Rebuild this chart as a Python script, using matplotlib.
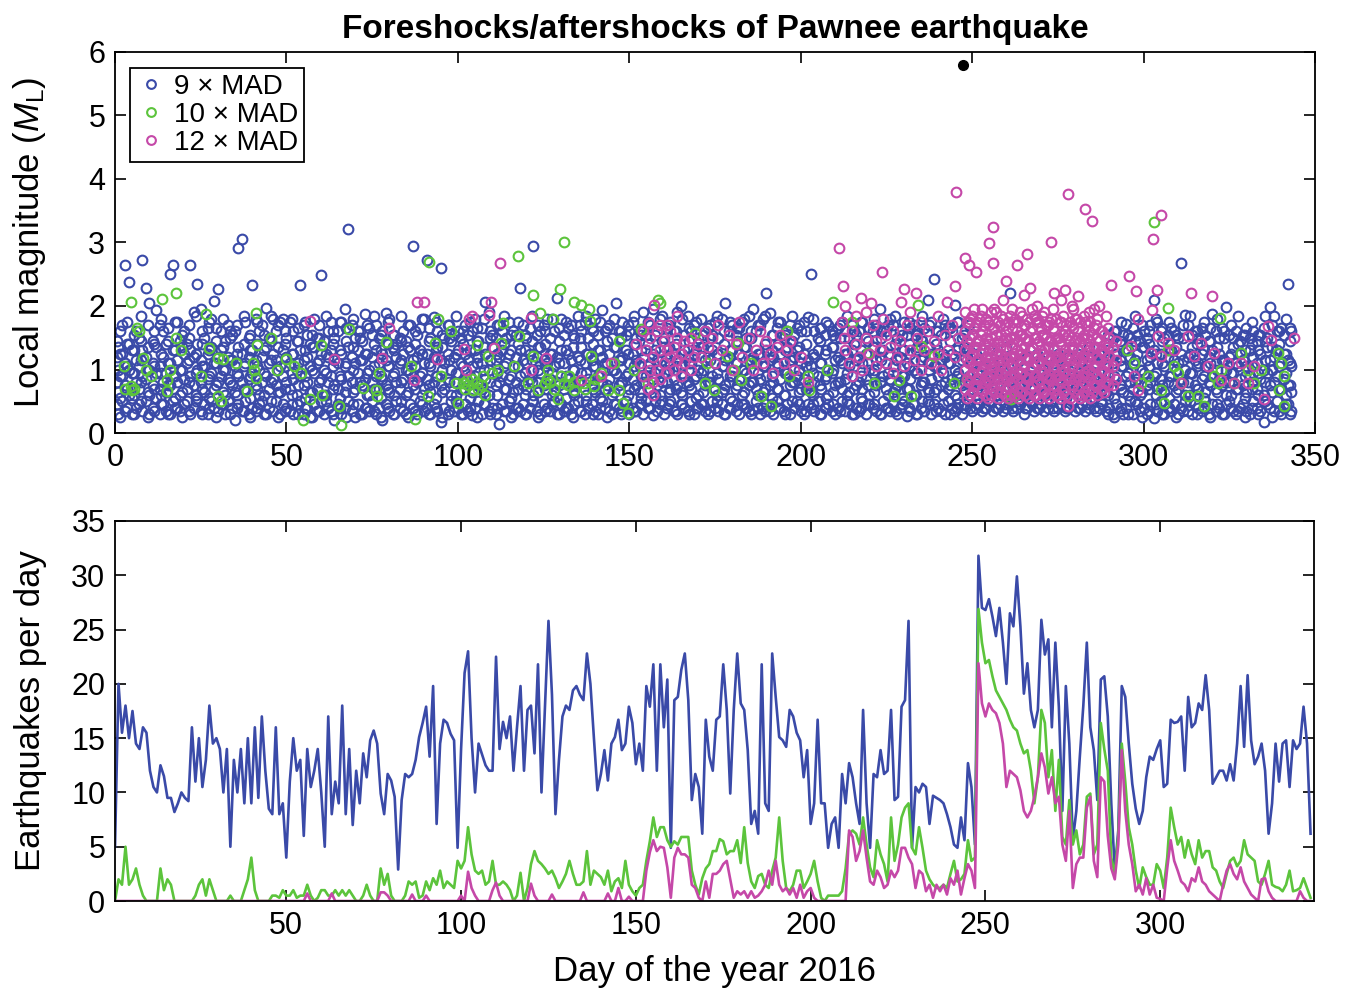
import matplotlib
matplotlib.use("Agg")
import matplotlib.pyplot as plt

plt.rcParams['font.family'] = ['Liberation Sans', 'DejaVu Sans']
plt.rcParams['mathtext.fontset'] = 'custom'
plt.rcParams['mathtext.rm'] = 'Liberation Sans'
plt.rcParams['mathtext.it'] = 'Liberation Sans:italic'

BLUE = '#3a4aa8'
GREEN = '#5cc43c'
MAGENTA = '#c548a8'

# ---- top panel: events (day, magnitudes...) ----
blue_a = [(0.5,.45,.8,1.2,1.45),(1,.3,.65,1.0,1.35),(2,.5,.9,1.25,1.7),(3,.35,.75,1.1,2.64),(4,.6,1.0,1.4,2.38),
(5,.3,.55,.95,1.3),(6,.4,.8,1.15,1.6),(7,.45,.7,1.05,1.5),(8,.35,.9,1.3,2.73),(9,.5,.85,1.2,2.29),(10,.3,.6,1.0,2.05),
(11,.4,.75,1.1,1.45),(12,.55,.95,1.35,1.93),(13,.3,.7,1.05,1.7),(14,.45,.8,1.2,1.6),(15,.35,.65,.95,1.4),(16,.3,.75,1.1,2.5),
(17,.5,.9,1.3,2.64),(18,.4,.8,1.15,1.75),(19,.35,.6,1.0,1.45),(20,.45,.85,1.25,1.6),(21,.5,.7,1.1,1.4),(22,.3,.9,1.3,2.64),
(23,.4,.75,1.2,1.9),(24,.55,1.0,1.4,2.35),(25,.35,.8,1.15,1.95),(26,.45,.65,1.05,1.5),(27,.3,.85,1.25,1.65),(28,.5,.95,1.35,1.8),
(29,.4,.7,1.1,2.08),(30,.35,.8,1.2,2.26),(31,.45,.9,1.3,1.6),(32,.3,.6,1.0,1.45),(33,.5,.85,1.2,1.7),(34,.4,.75,1.15,1.55),
(35,.2,.65,1.05,1.6),(36,.45,.9,1.35,2.92),(37,.35,.8,1.25,3.06),(38,.5,.7,1.1,1.75),(39,.3,.85,1.2,1.5),(40,.4,.95,1.3,2.33),
(41,.35,.75,1.15,1.8),(42,.45,.6,1.0,1.6),(43,.5,.8,1.2,1.7),(44,.3,.9,1.35,1.97),(45,.4,.7,1.1,1.5),(46,.35,.85,1.25,1.8),
(47,.5,.75,1.15,1.6),(48,.3,.65,1.05,1.75),(49,.45,.9,1.3,1.8),(50,.4,.8,1.2,1.5),(51,.35,.7,1.1,1.75),(52,.3,.85,1.25,1.6),
(53,.45,.6,1.0,1.45),(54,.5,.9,1.3,2.33),(55,.3,.75,1.15,1.7),(56,.4,.8,1.2,1.55),(57,.25,.65,1.05,1.4),(58,.45,.95,1.35,1.8),
(59,.35,.7,1.1,1.5),(60,.5,.85,1.25,2.49),(61,.3,.6,1.0,1.45),(62,.4,.8,1.2,1.6),(63,.35,.9,1.3,1.75),(64,.2,.75,1.15,1.5),
(65,.45,.7,1.1,1.6),(66,.3,.85,1.25,1.75),(67,.4,.65,1.05,1.95),(68,.5,.9,1.35,3.21),(69,.35,.8,1.2,1.7),(70,.25,.7,1.1,1.5),
(71,.45,.95,1.3,1.6),(72,.3,.75,1.15,1.45),(73,.4,.85,1.25,1.88),(74,.35,.6,1.0,1.65),(75,.5,.8,1.2,1.55),(76,.3,.9,1.3,1.7),
(77,.4,.7,1.1,1.5),(78,.2,.85,1.25,1.6),(79,.45,.75,1.15,1.89),(80,.35,.65,1.05,1.8),(81,.3,.9,1.35,1.55),(82,.5,.8,1.2,1.4),
(83,.4,.7,1.1,1.5),(84,.35,.85,1.25,1.6),(85,.3,.6,1.0,1.45),(86,.45,.95,1.3,1.7),(87,.4,.75,1.15,2.94),(88,.3,.8,1.2,1.55),
(89,.5,.9,1.3,1.65),(90,.35,.7,1.1,1.8),(91,.4,.85,1.25,2.73),(92,.3,.65,1.05,1.5),(93,.45,.8,1.2,1.83),(94,.35,.9,1.35,1.6),
(95,.17,.75,1.15,2.6),(96,.4,.7,1.1,1.5),(97,.3,.85,1.25,1.7),(98,.5,.6,1.0,1.45),(99,.35,.8,1.2,1.55),(100,.4,.95,1.3,1.6)]

blue_b = [(101,.3,.7,1.1,1.5),(102,.45,.85,1.25,1.7),(103,.35,.75,1.15,1.55),(104,.29,.65,1.05,1.6),(105,.4,.9,1.3,1.8),
(106,.5,.8,1.2,1.45),(107,.3,.7,1.1,1.65),(108,.45,.85,1.25,2.06),(109,.35,.6,1.0,1.9),(110,.4,.95,1.35,1.55),(111,.3,.75,1.15,1.5),
(112,.14,.8,1.2,1.7),(113,.45,.9,1.3,1.6),(114,.35,.7,1.1,1.5),(115,.5,.85,1.25,1.75),(116,.3,.65,1.05,1.6),(117,.4,.8,1.2,1.55),
(118,.35,.9,1.3,2.28),(119,.45,.75,1.15,1.7),(120,.3,.7,1.1,1.5),(121,.4,.85,1.25,1.65),(122,.5,.6,1.0,2.94),(123,.35,.8,1.2,1.55),
(124,.3,.95,1.35,1.6),(125,.45,.75,1.15,1.7),(126,.4,.7,1.1,1.8),(127,.35,.85,1.25,1.5),(128,.5,.65,1.05,1.6),(129,.3,.8,1.2,2.12),
(130,.45,.9,1.3,1.8),(131,.35,.7,1.1,1.55),(132,.4,.85,1.25,1.65),(133,.3,.75,1.15,1.7),(134,.45,.6,1.0,1.5),(135,.5,.8,1.2,1.85),
(136,.35,.95,1.35,1.6),(137,.3,.7,1.1,1.75),(138,.4,.85,1.25,1.5),(139,.45,.75,1.15,1.65),(140,.35,.65,1.05,1.8),(141,.3,.9,1.3,1.55),
(142,.5,.8,1.2,1.94),(143,.4,.7,1.1,1.6),(144,.35,.85,1.25,1.7),(145,.3,.6,1.0,1.5),(146,.45,.95,1.35,2.05),(147,.4,.75,1.15,1.6),
(148,.35,.8,1.2,1.75),(149,.5,.9,1.3,1.55),(150,.3,.7,1.1,1.6),(151,.4,.85,1.25,1.75),(152,.35,.75,1.15,1.5),(153,.45,.65,1.05,1.6),
(154,.3,.8,1.2,1.9),(155,.5,.9,1.3,1.55),(156,.4,.7,1.1,1.7),(157,.28,.85,1.25,1.95),(158,.35,.75,1.15,1.6),(159,.45,.6,1.0,1.8),
(160,.3,.95,1.35,1.5),(161,.4,.8,1.2,1.65),(162,.5,.7,1.1,1.75),(163,.35,.85,1.25,1.6),(164,.3,.75,1.15,1.9),(165,.45,.65,1.05,2.0),
(166,.4,.9,1.3,1.55),(167,.35,.8,1.2,1.85),(168,.5,.7,1.1,1.6),(169,.3,.85,1.25,1.7),(170,.4,.6,1.0,1.5),(171,.45,.95,1.35,1.8),
(172,.35,.75,1.15,1.6),(173,.3,.8,1.2,1.65),(174,.5,.9,1.3,1.55),(175,.4,.7,1.1,1.75),(176,.35,.85,1.25,1.5),(177,.45,.65,1.05,1.8),
(178,.3,.75,1.15,2.05),(179,.4,.8,1.2,1.6),(180,.5,.9,1.3,1.7),(181,.35,.7,1.1,1.55),(182,.3,.85,1.25,1.65),(183,.45,.6,1.0,1.75),
(184,.4,.95,1.35,1.5),(185,.35,.75,1.15,1.85),(186,.36,.8,1.2,1.96),(187,.5,.7,1.1,1.6),(188,.3,.85,1.25,1.7),(189,.4,.65,1.05,1.8),
(190,.45,.9,1.3,2.2),(191,.35,.75,1.15,1.89),(192,.3,.8,1.2,1.55),(193,.5,.7,1.1,1.65),(194,.4,.85,1.25,1.75),(195,.35,.6,1.0,1.5),
(196,.45,.95,1.35,1.6),(197,.3,.75,1.15,1.7),(198,.4,.8,1.2,1.55),(199,.5,.9,1.3,1.65),(200,.35,.7,1.1,1.6)]

blue_c = [(201,.3,.85,1.25,1.75),(202,.45,.75,1.15,1.82),(203,.4,.65,1.05,2.51),(204,.35,.8,1.2,1.6),(205,.5,.9,1.3,1.5),
(206,.3,.7,1.1,1.65),(207,.4,.85,1.25,1.55),(208,.45,.6,1.0,1.7),(209,.35,.95,1.35,1.6),(210,.3,.75,1.15,1.5),(211,.4,.8,1.2,1.65),
(212,.5,.7,1.1,1.75),(213,.35,.85,1.25,1.6),(214,.45,.65,1.05,1.5),(215,.3,.9,1.3,1.7),(216,.4,.75,1.15,1.55),(217,.35,.8,1.2,1.6),
(218,.5,.7,1.1,1.75),(219,.3,.85,1.25,1.5),(220,.45,.6,1.0,1.65),(221,.4,.95,1.35,1.6),(222,.35,.75,1.15,1.7),(223,.3,.8,1.2,1.95),
(224,.5,.9,1.3,1.65),(225,.4,.7,1.1,1.6),(226,.35,.85,1.25,1.8),(227,.45,.65,1.05,1.7),(228,.3,.75,1.15,1.5),(229,.4,.8,1.2,1.6),
(230,.5,.9,1.3,1.75),(231,.26,.7,1.1,1.55),(232,.35,.85,1.25,1.65),(233,.45,.6,1.0,1.7),(234,.3,.95,1.35,1.6),(235,.4,.75,1.15,1.5),
(236,.35,.8,1.2,1.65),(237,.5,.7,1.1,2.09),(238,.3,.85,1.25,1.75),(239,.45,.65,1.05,2.42),(240,.4,.9,1.3,1.6),(241,.35,.75,1.15,1.55),
(242,.3,.8,1.2,1.7),(243,.5,.7,1.1,1.65),(244,.4,.85,1.25,1.6),(245,.35,.6,1.0,2.02),(246,.45,.95,1.35,1.75),(247,.3,.75,1.15,1.5),
(248,.4,.8,1.2,1.6),(249,.5,.9,1.3,1.7),(250,.35,.7,1.1,1.55),(251,.4,.85,1.25),(252,.45,.75,1.15),(253,.35,.65,1.05),
(254,.4,.8,1.2),(255,.5,.9,1.3),(256,.35,.7,1.1),(257,.4,.85,1.25),(258,.45,.75,1.15),(259,.35,.6,1.0),(260,.4,.95,1.35),
(261,.5,.8,2.2),(262,.35,.7,1.2),(263,.4,.85,1.1),(264,.45,.75,1.15),(265,.3,.65,1.05),(266,.4,.8,1.2),(267,.5,.9,1.3),
(268,.35,.7,1.1),(269,.4,.85,1.25),(270,.45,.75,1.15),(271,.35,.6,1.0),(272,.4,.95,1.35),(273,.5,.8,1.2),(274,.35,.7,1.1),
(275,.4,.85,1.25),(276,.45,.75,1.15),(277,.35,.65,1.05),(278,.4,.8,1.2),(279,.5,.9,1.3),(280,.35,.7,1.1),(281,.4,.85,1.25),
(282,.45,.75,1.15),(283,.35,.6,1.0),(284,.4,.95,1.35),(285,.5,.8,1.2),(286,.35,.7,1.1),(287,.4,.85,1.25),(288,.45,.75,1.15),
(289,.35,.65,1.05),(290,.4,.8,1.2,1.55),(291,.3,.7,1.1,1.5),(292,.45,.85,1.25,1.6),(293,.35,.75,1.15,1.45),(294,.3,.65,1.05,1.55),
(295,.4,.9,1.3,1.71),(296,.5,.8,1.2,1.5),(297,.3,.7,1.1,1.65),(298,.45,.85,1.25,1.55),(299,.35,.6,1.0,1.45),(300,.4,.95,1.35,1.6),
(301,.3,.75,1.15,1.5),(302,.45,.8,1.2,1.7),(303,.24,.9,1.3,2.1),(304,.35,.7,1.1,1.75),(305,.5,.85,1.25,1.6),(306,.3,.65,1.05,1.5),
(307,.4,.8,1.2,1.55),(308,.35,.9,1.3,1.65),(309,.45,.75,1.15,1.6),(310,.3,.7,1.1,1.5),(311,.4,.85,1.25,2.67),(312,.5,.6,1.0,1.86),
(313,.35,.8,1.2,1.7),(314,.3,.95,1.35,1.55),(315,.45,.75,1.15,1.6),(316,.4,.7,1.1,1.5),(317,.35,.85,1.25,1.65),(318,.5,.65,1.05,1.55),
(319,.3,.8,1.2,1.45),(320,.45,.9,1.3,1.87),(321,.35,.7,1.1,1.6),(322,.4,.85,1.25,1.5),(323,.3,.75,1.15,1.65),(324,.45,.6,1.0,1.98),
(325,.5,.8,1.2,1.55),(326,.35,.95,1.35,1.5),(327,.3,.7,1.1,1.6),(328,.4,.85,1.25,1.45),(329,.45,.75,1.15,1.55),(330,.35,.65,1.05,1.65),
(331,.3,.9,1.3,1.5),(332,.5,.8,1.2,1.6),(333,.4,.7,1.1,1.45),(334,.35,.85,1.25,1.55),(335,.17,.6,1.0,1.65),(336,.45,.95,1.35,1.5),
(337,.4,.75,1.15,1.98),(338,.35,.8,1.2,1.85),(339,.5,.9,1.3,1.6),(340,.3,.7,1.1,1.65),(341,.4,.85,1.25,1.55),(342,.45,.75,1.15,2.35),
(343,.35,.65,1.05,1.6)]

# extra events filling the dense part of the 9 x MAD band
blue_fill = [(1.5,.25,.55,.9,1.25,1.6),(3.5,.4,.7,1.05,1.4,1.75),(5.5,.3,.6,.95,1.3,1.55),(7.5,.5,.8,1.15,1.45,1.85),
(9.5,.25,.65,1.0,1.35,1.7),(11.5,.35,.7,1.05,1.4,1.6),(13.5,.45,.6,.95,1.25,1.8),(15.5,.3,.75,1.1,1.45,1.65),
(17.5,.4,.55,.9,1.3,1.75),(19.5,.25,.65,1.0,1.35,1.55),(21.5,.35,.8,1.15,1.5,1.7),(23.5,.5,.6,.95,1.25,1.85),
(25.5,.3,.7,1.05,1.4,1.6),(27.5,.4,.55,.9,1.3,1.75),(29.5,.25,.75,1.1,1.45,1.65),(31.5,.45,.65,1.0,1.35,1.8),
(33.5,.3,.8,1.15,1.5,1.6),(35.5,.4,.6,.95,1.25,1.7),(37.5,.35,.7,1.05,1.4,1.85),(39.5,.25,.55,.9,1.3,1.55),
(41.5,.4,.7,1.05,1.4,1.75),(43.5,.3,.6,.95,1.3,1.55),(45.5,.5,.8,1.15,1.45,1.85),(47.5,.25,.65,1.0,1.35,1.7),
(49.5,.35,.7,1.05,1.4,1.6),(51.5,.45,.6,.95,1.25,1.8),(53.5,.3,.75,1.1,1.45,1.65),(55.5,.4,.55,.9,1.3,1.75),
(57.5,.25,.65,1.0,1.35,1.55),(59.5,.35,.8,1.15,1.5,1.7),(61.5,.5,.6,.95,1.25,1.85),(63.5,.3,.7,1.05,1.4,1.6),
(65.5,.4,.55,.9,1.3,1.75),(67.5,.25,.75,1.1,1.45,1.65),(69.5,.45,.65,1.0,1.35,1.8),(71.5,.3,.8,1.15,1.5,1.6),
(73.5,.4,.6,.95,1.25,1.7),(75.5,.35,.7,1.05,1.4,1.85),(77.5,.25,.55,.9,1.3,1.55),(79.5,.4,.7,1.05,1.4,1.75),
(81.5,.3,.6,.95,1.3,1.55),(83.5,.5,.8,1.15,1.45,1.85),(85.5,.25,.65,1.0,1.35,1.7),(87.5,.35,.7,1.05,1.4,1.6),
(89.5,.45,.6,.95,1.25,1.8),(91.5,.3,.75,1.1,1.45,1.65),(93.5,.4,.55,.9,1.3,1.75),(95.5,.25,.65,1.0,1.35,1.55),
(97.5,.35,.8,1.15,1.5,1.7),(99.5,.5,.6,.95,1.25,1.85),(101.5,.3,.7,1.05,1.4,1.6),(103.5,.4,.55,.9,1.3,1.75),
(105.5,.25,.75,1.1,1.45,1.65),(107.5,.45,.65,1.0,1.35,1.8),(109.5,.3,.8,1.15,1.5,1.6),(111.5,.4,.6,.95,1.25,1.7),
(113.5,.35,.7,1.05,1.4,1.85),(115.5,.25,.55,.9,1.3,1.55),(117.5,.4,.7,1.05,1.4,1.75),(119.5,.3,.6,.95,1.3,1.55),
(121.5,.5,.8,1.15,1.45,1.85),(123.5,.25,.65,1.0,1.35,1.7),(125.5,.35,.7,1.05,1.4,1.6),(127.5,.45,.6,.95,1.25,1.8),
(129.5,.3,.75,1.1,1.45,1.65),(131.5,.4,.55,.9,1.3,1.75),(133.5,.25,.65,1.0,1.35,1.55),(135.5,.35,.8,1.15,1.5,1.7),
(137.5,.5,.6,.95,1.25,1.85),(139.5,.3,.7,1.05,1.4,1.6),(141.5,.4,.55,.9,1.3,1.75),(143.5,.25,.75,1.1,1.45,1.65),
(145.5,.45,.65,1.0,1.35,1.8),(147.5,.3,.8,1.15,1.5,1.6),(149.5,.4,.6,.95,1.25,1.7),(151.5,.35,.7,1.05,1.4,1.85),
(153.5,.45,.55,.9,1.3,1.55),(155.5,.4,.7,1.05,1.4,1.75),(157.5,.5,.6,.95,1.3,1.55),(159.5,.5,.8,1.15,1.45,1.85),
(161.5,.45,.65,1.0,1.35,1.7),(163.5,.35,.7,1.05,1.4,1.6),(165.5,.45,.6,.95,1.25,1.8),(167.5,.3,.75,1.1,1.45,1.65),
(169.5,.4,.55,.9,1.3,1.75),(171.5,.45,.65,1.0,1.35,1.55),(173.5,.35,.8,1.15,1.5,1.7),(175.5,.5,.6,.95,1.25,1.85),
(177.5,.3,.7,1.05,1.4,1.6),(179.5,.4,.55,.9,1.3,1.75),(181.5,.45,.75,1.1,1.45,1.65),(183.5,.45,.65,1.0,1.35,1.8),
(185.5,.3,.8,1.15,1.5,1.6),(187.5,.4,.6,.95,1.25,1.7),(189.5,.35,.7,1.05,1.4,1.85),(191.5,.45,.55,.9,1.3,1.55),
(193.5,.4,.7,1.05,1.4,1.75),(195.5,.3,.6,.95,1.3,1.55),(197.5,.5,.8,1.15,1.45,1.85),(199.5,.45,.65,1.0,1.35,1.7),
(201.5,.35,.7,1.05,1.4,1.6),(203.5,.45,.6,.95,1.25,1.8),(205.5,.3,.75,1.1,1.45,1.65),(207.5,.4,.55,.9,1.3,1.75),
(209.5,.45,.65,1.0,1.35,1.55),(211.5,.35,.8,1.15,1.5,1.7),(213.5,.5,.6,.95,1.25,1.85),(215.5,.3,.7,1.05,1.4,1.6),
(217.5,.4,.55,.9,1.3,1.75),(219.5,.45,.75,1.1,1.45,1.65),(221.5,.45,.65,1.0,1.35,1.8),(223.5,.3,.8,1.15,1.5,1.6),
(225.5,.4,.6,.95,1.25,1.7),(227.5,.35,.7,1.05,1.4,1.85),(229.5,.45,.55,.9,1.3,1.55),(231.5,.4,.7,1.05,1.4,1.75),
(233.5,.3,.6,.95,1.3,1.55),(235.5,.5,.8,1.15,1.45,1.85),(237.5,.45,.65,1.0,1.35,1.7),(239.5,.35,.7,1.05,1.4,1.6),
(241.5,.45,.6,.95,1.25,1.8),(243.5,.3,.75,1.1,1.45,1.65),(245.5,.4,.55,.9,1.3,1.75),(247.5,.45,.65,1.0,1.35,1.55),
(249.5,.4,.6,.9),(251.5,.45,.7,.95),(253.5,.4,.55,.85),(255.5,.5,.65,.9),(257.5,.4,.6,.95),(259.5,.45,.7,.85),
(261.5,.4,.55,.9),(263.5,.5,.65,.95),(265.5,.4,.6,.85),(267.5,.45,.7,.9),(269.5,.4,.55,.95),(271.5,.5,.65,.85),
(273.5,.4,.6,.9),(275.5,.45,.7,.95),(277.5,.4,.55,.85),(279.5,.5,.65,.9),(281.5,.4,.6,.95),(283.5,.45,.7,.85),
(285.5,.4,.55,.9),(287.5,.5,.65,.95),(289.5,.3,.6,.95,1.3,1.55),(291.5,.25,.55,.9,1.25,1.6),(293.5,.4,.7,1.05,1.4,1.75),
(295.5,.3,.6,.95,1.3,1.55),(297.5,.5,.8,1.15,1.45,1.85),(299.5,.25,.65,1.0,1.35,1.7),(301.5,.35,.7,1.05,1.4,1.6),
(303.5,.45,.6,.95,1.25,1.8),(305.5,.3,.75,1.1,1.45,1.65),(307.5,.4,.55,.9,1.3,1.75),(309.5,.25,.65,1.0,1.35,1.55),
(311.5,.35,.8,1.15,1.5,1.7),(313.5,.5,.6,.95,1.25,1.85),(315.5,.3,.7,1.05,1.4,1.6),(317.5,.4,.55,.9,1.3,1.75),
(319.5,.25,.75,1.1,1.45,1.65),(321.5,.45,.65,1.0,1.35,1.8),(323.5,.3,.8,1.15,1.5,1.6),(325.5,.4,.6,.95,1.25,1.7),
(327.5,.35,.7,1.05,1.4,1.85),(329.5,.25,.55,.9,1.3,1.55),(331.5,.4,.7,1.05,1.4,1.75),(333.5,.3,.6,.95,1.3,1.55),
(335.5,.5,.8,1.15,1.45,1.85),(337.5,.25,.65,1.0,1.35,1.7),(339.5,.35,.7,1.05,1.4,1.6),(341.5,.45,.6,.95,1.25,1.8),
(342.8,.3,.75,1.1,1.45,1.65)]

green_pts = [(2.6,1.05),(3,.7),(4.6,.74),(5,.68),(5.5,.7),(4.8,2.06),(6.5,1.66),(7,1.6),(8.3,1.18),(9,1.0),(10.4,.89),
(13.6,2.11),(15.1,.84),(15.3,.66),(16,1.0),(17.7,1.5),(17.7,2.2),(19.2,1.31),(25,.89),(26.5,1.87),(27.4,1.34),(29.9,1.18),
(29.9,.58),(31.4,1.16),(31,.5),(35.2,1.1),(38.6,.66),(40.3,1.1),(41,1.89),(41.1,.87),(41.4,1.39),(40.5,1.0),(45.4,1.5),
(47.2,1.0),(49.8,1.16),(52.2,1.05),(54.2,.95),(54.7,.2),(56.9,.53),(60.2,1.39),(60.4,.6),(65.4,.42),(65.9,.12),(68.3,1.63),
(72.2,.71),(76.1,.68),(77,.95),(79,1.44),(76.5,.58),(86.3,1.05),(87.5,.22),(91.2,.58),(91.6,2.7),(93.2,1.42),(94.3,1.8),
(95,.9),(98,1.6),(99.4,.79),(99.9,.47),(101.4,.79),(102,.7),(102.8,.84),(103,.75),(104,.85),(104.3,.68),(105.7,.79),
(105.7,1.39),(106,.7),(107,.75),(107.2,.9),(108,.6),(108.7,1.21),(110,.95),(111.6,1.0),(112.6,1.42),(113.1,1.74),(116.5,1.05),
(117.5,2.78),(117.9,1.52),(120.4,.79),(121.9,2.17),(121.9,1.21),(123.3,.68),(124.1,1.89),(125.3,.79),(126,.85),(126.2,1.0),
(127,.8),(127.7,1.8),(128,.7),(129.1,.53),(129.9,2.26),(130,.9),(131,3.0),(131,.79),(132,.75),(132.5,.9),(133.9,2.06),
(133.9,.68),(134,.8),(135.9,2.02),(136.8,.79),(137,.7),(138.3,1.95),(138.6,1.76),(138.8,1.21),(139.8,.74),(140,.85),
(141.8,.95),(143.7,.68),(145.6,1.1),(147.1,.68),(147.1,1.45),(148.1,.47),(149.5,.32),(151.5,1.0),(153.4,1.63),(155.4,.79),
(158.3,2.1),(159,2.05),(169.1,1.58),(172.1,.79),(172.8,1.1),(174.7,.68),(178.6,1.21),(180.6,1.0),(181.6,1.42),(182.5,.84),
(185.4,1.1),(188.4,.58),(191.3,.42),(196,1.6),(196.6,.9),(202,.9),(202.5,.68),(207.8,1.0),(209.3,2.07),(215.1,1.75),
(219.5,1.26),(221.4,.79),(227.3,.58),(228.7,.84),(232.1,.58),(234.3,2.02),(235,1.37),(238.9,1.21),(244.8,.79),(248.6,.84),
(261.3,.53),(262.3,.58),(295.3,1.31),(297.3,1.1),(299.2,.79),(301.2,.9),(303.1,3.32),(305.1,.68),(306.1,.47),(307,1.97),
(307,1.31),(309,1.05),(310,.95),(310.9,.79),(312.9,.58),(315.8,.58),(317.7,.42),(320.6,.9),(321.6,.79),(322.4,1.81),
(322.6,1.0),(326.5,.79),(328.4,1.26),(330.4,1.0),(332.3,.79),(334.2,1.0),(339.1,1.26),(340.1,1.1),(341.1,.9),(341.1,.42),
(339.6,.68)]

magenta_pts = [(56.9,1.76),(63.9,1.17),(77.8,1.18),(80,1.66),(87.3,.84),(88.2,2.06),(90.1,2.06),(94,1.16),(101.8,1.32),
(102.3,1.0),(103.3,1.8),(104.2,1.84),(109.6,2.07),(109.1,1.86),(110.6,1.34),(112.3,2.68),(121.3,1.81),(121.3,1.0),(125.6,1.18),
(135.8,.84),(141.7,.9),(144.6,1.1),(152,1.4),(153,1.1),(154,.9),(154,1.6),(155,1.3),(155.5,.7),(155.8,1.74),(156,1.5),(156,1.0),
(157,.8),(157,1.2),(157,.6),(157.2,2.02),(158,1.6),(158,1.0),(159,1.3),(159,.85),(159,1.7),(160,1.1),(160,1.45),(160.9,1.7),
(161,.95),(161,1.3),(162,1.2),(162,1.6),(163,1.0),(163,1.35),(164,1.15),(164,1.5),(164,1.84),(165,.9),(165,1.25),(166,1.1),
(166,1.45),(167,1.3),(168,1.0),(168,1.5),(169,1.2),(170,1.4),(171,1.2),(172,1.6),(173,1.35),(174,1.5),(175,1.1),(176,1.7),
(177,1.3),(179,1.55),(180,1.0),(181,1.4),(182,1.75),(183,1.2),(185,1.5),(186,1.0),(187,1.3),(188,1.6),(189,1.1),(190,1.45),
(191,1.25),(192,.95),(193,1.35),(194,1.55),(195,1.1),(196,1.3),(197,1.45),(198,1.0),(200,1.2),(202,.8),(211.3,2.92),
(212.2,2.31),(213,2.0),(212,1.75),(212.5,1.5),(213,1.3),(214,1.1),(215,1.6),(215,.9),(216,1.4),(216,1.85),(217,1.2),
(217.5,2.13),(218,1.0),(219,1.5),(219,1.9),(220,1.25),(220.5,2.05),(221,1.7),(222,1.05),(222,1.45),(223,1.3),(223.6,2.54),
(224,1.8),(225,1.1),(225,1.55),(226,1.35),(227,1.6),(227,.95),(228,1.2),(229,1.45),(229.2,2.07),(230,1.05),(230.2,2.26),
(231,1.7),(232,1.3),(232,1.9),(233,1.15),(233.6,2.21),(234,1.5),(235,1.0),(235,1.75),(236,1.3),(237,1.6),(238,1.1),(239,1.45),
(240,1.25),(240,1.85),(241,1.0),(242,1.55),(242.8,2.06),(243,1.3),(244,1.7),(245,2.31),(245.2,3.8),(245,1.2),(246,1.5),
(290.4,2.33),(295.8,2.47),(296.3,1.37),(297.3,.9),(297.7,2.24),(298.3,.68),(298.3,1.79),(302.2,1.26),(302.6,1.94),(302.8,3.06),
(303.9,2.25),(304.1,1.52),(305.1,1.21),(305.1,3.44),(307,1.42),(309,1.31),(310.9,.79),(312.9,1.52),(313.8,2.21),(314.8,1.21),
(316.7,1.42),(318.7,1.05),(319.9,2.15),(320.6,1.26),(322.6,.84),(324.5,1.1),(326.5,.79),(328.4,1.1),(330.4,.79),(332.3,1.05),
(335.2,.53),(336.2,1.68),(337.2,1.47),(344,1.5)]

magenta_swarm = [(248,.7,1.0,1.3,1.6,1.9,2.76),(249,.8,1.1,1.4,1.75,2.64),(250,.65,.95,1.25,1.55,1.85),(251,.75,1.05,1.35,1.7,2.54),
(252,.85,1.15,1.45,1.8),(253,.7,1.0,1.3,1.6,1.95),(254,.6,.9,1.2,1.5,1.8),(255,.8,1.1,1.4,1.7,2.99),(256,.7,1.0,1.3,1.65,2.68,3.24),
(257,.65,.95,1.25,1.55,1.9),(258,.75,1.05,1.35,1.7),(259,.85,1.15,1.45,1.8,2.1),(260,.7,1.0,1.3,1.6,2.4),(261,.6,.9,1.2,1.5,1.85),
(262,.8,1.1,1.4,1.75),(263,.7,1.0,1.3,1.6,2.65),(264,.65,.95,1.25,1.55,1.9),(265,.75,1.05,1.35,1.7,2.18),(266,.85,1.15,1.45,1.8,2.82),
(267,.7,1.0,1.3,1.6,2.28),(268,.6,.9,1.2,1.5,1.85),(269,.8,1.1,1.4,1.75,2.0),(270,.7,1.0,1.3,1.65),(271,.65,.95,1.25,1.55,1.9),
(272,.75,1.05,1.35,1.7),(273,.85,1.15,1.45,1.8,3.0),(274,.7,1.0,1.3,1.6,2.2),(275,.6,.9,1.2,1.5),(276,.8,1.1,1.4,1.75,2.1),
(277,.7,1.0,1.3,1.6,2.25),(278,.43,.95,1.25,1.55,3.77),(279,.75,1.05,1.35,1.7,2.0),(280,.85,1.15,1.45,1.8),(281,.7,1.0,1.3,1.6,2.15),
(282,.6,.9,1.2,1.5),(283,.8,1.1,1.4,1.75,3.52),(284,.7,1.0,1.3,1.6,1.9),(285,.65,.95,1.25,1.55,3.34),(286,.75,1.05,1.35,1.7),
(287,.85,1.15,1.45,2.0),(288,.7,1.0,1.3,1.6),(289,.8,1.1,1.4,1.85),(290,.9,1.2,1.5),(291,.75,1.05,1.35),(292,.85,1.15,1.45),
(248.5,.55,.85,1.15,1.45,1.75),(249.5,.6,.9,1.2,1.5,1.8),(250.5,.75,1.05,1.35,1.65,1.95),(251.5,.55,.85,1.15,1.45,1.75),
(252.5,.65,.95,1.25,1.55,1.85),(253.5,.8,1.1,1.4,1.7),(254.5,.55,.85,1.15,1.45,1.75),(255.5,.6,.9,1.2,1.5,1.9),
(256.5,.75,1.05,1.35,1.65,1.95),(257.5,.55,.85,1.15,1.45,1.75),(258.5,.65,.95,1.25,1.55,1.85),(259.5,.6,.9,1.2,1.5,1.7),
(260.5,.55,.85,1.15,1.45,1.75),(261.5,.75,1.05,1.35,1.65,1.95),(262.5,.6,.9,1.2,1.5,1.8),(263.5,.55,.85,1.15,1.45,1.75),
(264.5,.65,.95,1.25,1.55,1.85),(265.5,.6,.9,1.2,1.5,1.7),(266.5,.55,.85,1.15,1.45,1.75),(267.5,.75,1.05,1.35,1.65,1.95),
(268.5,.6,.9,1.2,1.5,1.8),(269.5,.55,.85,1.15,1.45,1.75),(270.5,.65,.95,1.25,1.55,1.85),(271.5,.6,.9,1.2,1.5,1.7),
(272.5,.55,.85,1.15,1.45,1.75),(273.5,.75,1.05,1.35,1.65,1.95),(274.5,.6,.9,1.2,1.5,1.8),(275.5,.55,.85,1.15,1.45,1.75),
(276.5,.65,.95,1.25,1.55,1.85),(277.5,.6,.9,1.2,1.5,1.7),(278.5,.55,.85,1.15,1.45,1.75),(279.5,.75,1.05,1.35,1.65,1.95),
(280.5,.6,.9,1.2,1.5,1.8),(281.5,.55,.85,1.15,1.45,1.75),(282.5,.65,.95,1.25,1.55,1.85),(283.5,.6,.9,1.2,1.5,1.7),
(284.5,.55,.85,1.15,1.45,1.75),(285.5,.75,1.05,1.35,1.65,1.95),(286.5,.6,.9,1.2,1.5,1.8),(287.5,.7,1.0,1.3,1.6),
(288.5,.65,.95,1.25,1.55),(289.5,.75,1.05,1.35,1.65)]

mainshock_day = [247.2]
mainshock_ml = [5.79]

# ---- bottom panel: earthquakes per day, days 1..343 ----
rate_9mad = [5, 20, 15.5, 18, 15, 17.5, 14.5, 14, 16, 15.5,
 12, 10.5, 10, 12.5, 11.5, 9.5, 9.5, 8.2, 9, 10,
 9.5, 9.2, 16, 11, 15, 10.5, 13, 18, 14.5, 15,
 14, 10, 14, 5, 13, 10, 14, 9, 15, 9,
 16, 9.5, 17, 12, 8.5, 8, 16, 8, 9, 4,
 11, 15, 12, 13, 6, 14, 10.5, 12, 14, 10,
 5, 17, 8, 11, 9, 18, 8, 14, 7, 12,
 9, 13.6, 11.4, 14.8, 15.7, 14.5, 9.9, 8, 11.7, 11.1,
 9.6, 2.9, 9.3, 11.7, 11.4, 11.7, 13, 15.1, 16.4, 17.9,
 13.3, 19.8, 7.1, 14.5, 16.7, 16.4, 15.4, 14.8, 4.9, 14,
 21, 23, 15, 10, 14.5, 13.5, 12.5, 12, 12, 22.5,
 14, 16.5, 15, 17, 12, 16, 19.8, 12, 17.6, 18,
 13.6, 21.8, 10, 18, 25.8, 19, 8, 13, 17, 18,
 17.6, 19.4, 19.8, 19, 18.5, 22.8, 20, 15, 10.2, 11.7,
 13.9, 11.1, 14.5, 15.1, 16.7, 13.9, 14.5, 17.9, 16.4, 12.6,
 14.5, 12, 19.8, 17.9, 21.8, 12, 21.8, 16, 20.4, 4.9,
 18.5, 18.8, 21.3, 22.8, 18.5, 9.3, 11.7, 10.5, 6.2, 16.7,
 13.3, 12, 16.7, 17, 21.8, 17.6, 9.9, 17.6, 22.8, 18.2,
 17.6, 13.9, 7.1, 8.3, 6.2, 21.8, 9, 8.3, 22.8, 18.8,
 15.1, 14.8, 14.2, 17.6, 17, 15.5, 14.8, 11.4, 13.9, 7.1,
 9, 16.7, 9, 9, 4.9, 7.1, 7.7, 4.9, 11.7, 9,
 12.7, 11.4, 9, 7.1, 17.6, 9, 4.9, 11.7, 11.4, 13.9,
 11.7, 12, 17.6, 9.3, 9.6, 17.9, 18.5, 25.8, 4.9, 10.5,
 10, 10.8, 10.5, 7.1, 9.7, 9.5, 9.3, 9, 8, 6.8,
 5.2, 4.9, 7.7, 5.6, 12.7, 10.5, 5.2, 31.8, 27, 26.8,
 27.8, 26.2, 24.4, 27, 23.8, 20, 26.5, 25.3, 29.9, 25.3,
 19.1, 21.9, 17.6, 16, 17.6, 25.9, 22.7, 24.1, 16, 23.8,
 17.9, 8.3, 19.8, 14.5, 5.6, 8.3, 13.3, 18, 23.8, 16,
 13.9, 9.3, 20.4, 20.7, 17, 9, 2.8, 6.5, 19.8, 18.8,
 14.5, 10.8, 8.5, 7.1, 8.3, 11.4, 13.3, 13, 14, 14.8,
 10.5, 10.8, 16.7, 16.4, 16.5, 17, 12, 18.8, 16, 16.4,
 18.2, 17.6, 20.8, 17.6, 10.8, 11.4, 12, 12, 11.1, 12.6,
 11.1, 14.5, 19.8, 14.2, 20.8, 14.8, 12.6, 13.3, 14.5, 12,
 6.2, 9, 14.5, 11, 14.5, 14.8, 10.5, 14.8, 14, 14.5,
 17.9, 14.5, 6.2]

rate_10mad = [0, 2, 1.5, 5, 1.5, 2, 3, 1.5, 0.5, 0,
 0, 0, 0, 3, 1, 2, 1.5, 0, 0, 0,
 0, 0, 0, 0.5, 1.5, 2, 0.5, 2, 1, 0,
 0, 0, 0, 0.5, 0, 0, 0, 1, 2, 4,
 1, 0, 0, 0, 0, 0.5, 0.5, 0.3, 1, 0.5,
 0.5, 1, 0.3, 0.5, 0.5, 1.5, 0.5, 0, 0.3, 1,
 1, 0.5, 0.5, 1, 0.5, 1, 0.5, 1, 0.5, 0,
 0, 0.5, 1.5, 0.5, 0, 0, 3, 1.5, 2.5, 0.5,
 0, 0, 0, 0.5, 1.8, 1.5, 1.8, 0.3, 0.5, 1.8,
 1, 2.1, 1.5, 2.8, 1.2, 1.8, 1.5, 1.2, 3.7, 3,
 3.7, 6.8, 4.3, 2.8, 2.5, 2.8, 1.5, 1.8, 3.7, 1.5,
 1.5, 1.8, 1.5, 1, 0, 0.5, 2.6, 0, 1.2, 3.4,
 4.6, 3.7, 3.4, 3, 2.5, 2.8, 2.1, 1.2, 1.8, 2.5,
 3.7, 2.5, 1.5, 1.5, 1.8, 4.6, 1.5, 2.8, 2.5, 2.2,
 1.5, 2.8, 0.9, 1.8, 2.1, 1.2, 3.7, 1.5, 0.9, 0.5,
 1.2, 1.5, 3.7, 5.5, 7.7, 5.9, 6.8, 6.8, 5.6, 5,
 5.5, 5.2, 5.9, 5.9, 5.9, 2.8, 1.5, 0.6, 2.1, 3,
 3.4, 4.6, 4.6, 5.7, 5.5, 4.3, 4.6, 4.6, 5.6, 3.5,
 6.8, 3.5, 1.8, 1.2, 2.3, 2.5, 1.5, 1.2, 2.8, 4,
 7.7, 3.7, 1.2, 0.9, 1.5, 2.8, 2.8, 1.2, 1.8, 2.5,
 3.7, 1.8, 0.3, 0, 0.5, 0.5, 0.5, 0.5, 0.9, 3,
 6.2, 6.5, 6.2, 5.2, 7.7, 5.2, 3.1, 2.2, 5.6, 4.3,
 3.4, 1.8, 7.7, 3.7, 5.2, 7.7, 8.6, 9, 4.9, 4.3,
 6.8, 4.9, 2.8, 2, 1.5, 1.2, 1.2, 1.5, 1.2, 2.5,
 3.7, 1.8, 2, 2.5, 5.6, 3.7, 4, 26.9, 23.8, 21.9,
 22.2, 20.7, 19.4, 18.8, 18.2, 17.6, 16.7, 16, 15.7, 14.5,
 13.6, 13.9, 12, 9, 11.4, 17.6, 16.4, 11.4, 13.9, 8.3,
 13, 5.9, 5.2, 9.3, 5.2, 6.5, 4.3, 5.2, 9.6, 9.9,
 4.3, 5.2, 16.4, 14, 12, 4, 2.5, 6, 14.5, 11,
 6.8, 5.2, 2.8, 1.2, 3.1, 2.2, 1.5, 1.5, 3.4, 2.8,
 1.2, 4, 8.6, 6.8, 5.2, 5.9, 4, 5.6, 4.3, 3.4,
 5.6, 4, 4.6, 4.6, 3.1, 2.8, 1.8, 1.2, 2.5, 3.7,
 4, 3.2, 3.7, 5.6, 4.3, 4, 3.7, 1.8, 1.5, 2.5,
 3.7, 1.5, 1.3, 1.2, 0.9, 1.5, 2.8, 0.9, 1, 1.2,
 2.1, 1.2, 0.3]

rate_12mad = [0]*50 + [0, 0, 0, 0, 0, 0.7, 0, 0, 0, 0,
 0, 0, 0.7, 0, 0, 0, 0, 0, 0, 0,
 0, 0, 0, 0, 0, 0, 0.8, 0.8, 0.5, 0,
 0, 0, 0, 0, 0, 0.6, 0, 0, 0, 0.5,
 0, 0, 0, 0, 0, 0, 0, 0, 0, 0.5,
 0, 2.7, 1.2, 0.5, 0, 0, 0, 0, 1, 1.7,
 0.5, 0, 0, 0, 0, 0, 0, 0, 0, 1.6,
 0.5, 0, 0, 0, 0, 0.6, 0, 0, 0, 0,
 0, 0, 0, 0, 0.8, 0, 0, 0, 0, 0,
 0, 0.7, 0, 0, 1.2, 0, 0, 0.4, 0, 0,
 0, 0, 2.8, 4.5, 5.6, 4.6, 5, 4.9, 3.1, 0.3,
 4, 4.9, 4.3, 4.3, 4, 1.5, 1.2, 0.3, 0, 1.8,
 0.3, 2.5, 2.5, 2.8, 3.4, 3.7, 2, 0.3, 0.9, 0.6,
 0.9, 0.3, 0.9, 0.3, 0.5, 0.9, 1.5, 2.8, 1.5, 3.7,
 1.5, 0.9, 1.2, 0.6, 1.2, 0.3, 1.5, 0.3, 0.9, 1.2,
 0.3, 0, 0, 0, 0, 0, 0, 0, 0, 0,
 6.5, 5.9, 3.7, 4.6, 6.5, 4, 1.8, 1.5, 2.8, 2.2,
 1.2, 1.5, 2.8, 2.2, 2.8, 4.9, 4.9, 4, 3.4, 1.2,
 2.8, 2.5, 0.9, 1.5, 0.3, 1.5, 0.9, 1.5, 0.6, 2.1,
 1.5, 2.8, 0.6, 2.1, 3.4, 2.8, 1.2, 21.9, 18.2, 17,
 18.2, 17.6, 17.3, 16.4, 14.5, 10.5, 12, 11.7, 11.4, 10.2,
 8.3, 7.7, 8.3, 9.6, 11.4, 13.6, 12.3, 9.9, 11.4, 9,
 9.6, 5.2, 3.7, 8.3, 1.2, 3.4, 4, 4, 8.6, 9.6,
 3.7, 2.2, 11.4, 11, 6, 3, 2, 5.2, 13.9, 8.3,
 5.2, 3.4, 0.9, 1.5, 0.6, 2.1, 0.6, 1.5, 0.3, 0.2,
 0, 3, 5.6, 3.7, 2.8, 1.8, 1.5, 0.9, 2.1, 1.8,
 3.1, 1.8, 1.5, 0.9, 0.6, 0.3, 0, 1.5, 2.8, 3.4,
 2.5, 2, 3.1, 1.8, 1.2, 0.6, 0.3, 0, 2, 2.1,
 0.9, 0.3, 0, 0, 0, 0, 0, 0, 0, 0.9,
 0.3, 0, 0]

days = list(range(1, len(rate_9mad) + 1))


def flatten(rows):
    d, m = [], []
    for r in rows:
        for v in r[1:]:
            d.append(r[0])
            m.append(v)
    return d, m


fig = plt.figure(figsize=(13.53, 9.92), dpi=100)
ax1 = fig.add_axes([0.0850, 0.5635, 0.8869, 0.3841])
ax2 = fig.add_axes([0.0850, 0.0917, 0.8862, 0.3831])

ring = dict(linestyle='none', marker='o', mfc='none', ms=7, mew=1.5)
bd, bm = flatten(blue_a + blue_b + blue_c + blue_fill)
gd, gm = flatten(green_pts)
md, mm = flatten(magenta_pts + magenta_swarm)
ax1.plot(bd, bm, mec=BLUE, label='9 × MAD', **ring)
ax1.plot(gd, gm, mec=GREEN, label='10 × MAD', **ring)
ax1.plot(md, mm, mec=MAGENTA, label='12 × MAD', **ring)
ax1.plot(mainshock_day, mainshock_ml, 'o', color='k', ms=7)

ax1.set_xlim(0, 350)
ax1.set_ylim(0, 6)
ax1.set_xticks(range(0, 351, 50))
ax1.set_yticks(range(0, 7))
ax1.set_ylabel('Local magnitude ($M_\\mathrm{L}$)', fontsize=25)
ax1.yaxis.set_label_coords(-0.056, 0.5)
ax1.set_title('Foreshocks/aftershocks of Pawnee earthquake', fontsize=24,
              fontweight='bold', pad=10)
leg = ax1.legend(loc='upper left', bbox_to_anchor=(0.0125, 0.958), borderaxespad=0,
                 fontsize=20, handletextpad=0.3, labelspacing=0.08, borderpad=0.2,
                 handlelength=1.1, fancybox=False, edgecolor='k', framealpha=1,
                 markerscale=0.9)
leg.get_frame().set_linewidth(1.3)

ax2.plot(days, rate_9mad, color=BLUE, lw=1.9)
ax2.plot(days, rate_10mad, color=GREEN, lw=1.9)
ax2.plot(days, rate_12mad, color=MAGENTA, lw=1.9)
ax2.set_xlim(1, 344)
ax2.set_ylim(0, 35)
ax2.set_xticks(range(50, 301, 50))
ax2.set_yticks(range(0, 36, 5))
ax2.set_ylabel('Earthquakes per day', fontsize=25)
ax2.yaxis.set_label_coords(-0.057, 0.5)
ax2.set_xlabel('Day of the year 2016', fontsize=25, labelpad=10)

for ax in (ax1, ax2):
    ax.tick_params(direction='in', length=8, width=1.2, top=True, right=True,
                   labelsize=22, pad=7)
    for s in ax.spines.values():
        s.set_linewidth(1.3)

fig.savefig('out.png', dpi=100)
